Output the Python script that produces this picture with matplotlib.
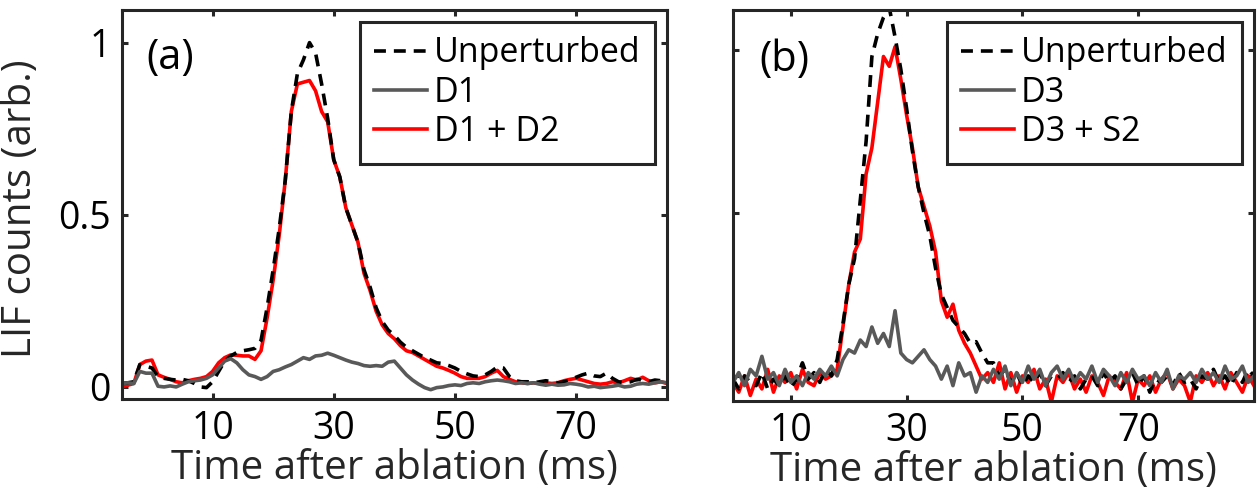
import numpy as np
import matplotlib
matplotlib.use("Agg")
import matplotlib.pyplot as plt

plt.rcParams["font.family"] = ["Open Sans", "DejaVu Sans"]

# ---- panel (a): time axis and LIF traces -------------------------------
time_a = np.arange(-5, 86)  # ms

unperturbed_a = [
    0.010, 0.012, 0.015, 0.065, 0.060, 0.055, 0.030, 0.025, 0.022, 0.020,
    0.022, 0.018, 0.010, 0.000, -0.002, 0.015, 0.045, 0.075, 0.090, 0.100,
    0.105, 0.108, 0.112, 0.135, 0.230, 0.340, 0.460, 0.600, 0.800, 0.910,
    0.950, 1.000, 0.970, 0.880, 0.780, 0.660, 0.610, 0.520, 0.470, 0.420,
    0.340, 0.290, 0.230, 0.190, 0.165, 0.150, 0.130, 0.115, 0.105, 0.095,
    0.085, 0.078, 0.070, 0.068, 0.062, 0.055, 0.045, 0.038, 0.032, 0.030,
    0.035, 0.045, 0.058, 0.055, 0.030, 0.018, 0.015, 0.015, 0.012, 0.015,
    0.018, 0.015, 0.012, 0.015, 0.020, 0.028, 0.035, 0.040, 0.032, 0.030,
    0.040, 0.025, 0.015, 0.012, 0.015, 0.022, 0.020, 0.015, 0.020, 0.018,
    0.015,
]

d1 = [
    0.010, 0.012, 0.010, 0.045, 0.040, 0.040, 0.002, 0.000, 0.003, 0.000,
    0.008, 0.015, 0.018, 0.020, 0.025, 0.035, 0.055, 0.075, 0.082, 0.070,
    0.050, 0.035, 0.030, 0.022, 0.030, 0.045, 0.050, 0.058, 0.065, 0.075,
    0.085, 0.080, 0.090, 0.092, 0.098, 0.092, 0.085, 0.078, 0.072, 0.068,
    0.062, 0.060, 0.062, 0.060, 0.072, 0.075, 0.055, 0.035, 0.020, 0.008,
    -0.002, -0.008, -0.002, 0.000, 0.004, 0.006, 0.004, 0.010, 0.012, 0.010,
    0.015, 0.018, 0.020, 0.018, 0.015, 0.010, 0.012, 0.010, 0.012, 0.008,
    0.005, 0.008, 0.005, 0.006, 0.010, 0.008, 0.005, 0.000, 0.002, -0.002,
    0.000, 0.002, 0.005, 0.000, 0.002, 0.008, 0.010, 0.008, 0.012, 0.015,
    0.012,
]

d1_d2 = [
    0.000, 0.005, 0.010, 0.065, 0.075, 0.078, 0.035, 0.028, 0.022, 0.015,
    0.012, 0.018, 0.022, 0.025, 0.030, 0.045, 0.070, 0.085, 0.093, 0.092,
    0.090, 0.090, 0.080, 0.105, 0.200, 0.310, 0.440, 0.600, 0.800, 0.880,
    0.885, 0.890, 0.860, 0.800, 0.770, 0.660, 0.610, 0.520, 0.470, 0.420,
    0.330, 0.280, 0.220, 0.180, 0.155, 0.140, 0.120, 0.105, 0.100, 0.090,
    0.080, 0.070, 0.060, 0.055, 0.048, 0.040, 0.030, 0.025, 0.025, 0.025,
    0.030, 0.040, 0.048, 0.030, 0.022, 0.015, 0.012, 0.010, 0.012, 0.010,
    0.012, 0.010, 0.012, 0.018, 0.022, 0.025, 0.020, 0.015, 0.010, 0.008,
    0.010, 0.015, 0.012, 0.018, 0.025, 0.020, 0.028, 0.018, 0.012, 0.015,
    0.010,
]

# ---- panel (b): time axis and LIF traces -------------------------------
time_b = np.arange(0, 91)  # ms

unperturbed_b = [
    -0.01, -0.04, 0.00, -0.02, -0.03, 0.01, -0.04, -0.01, -0.03, 0.00,
    -0.035, -0.01, 0.04, -0.01, 0.01, -0.02, 0.02, 0.00, 0.05, 0.16,
    0.28, 0.36, 0.54, 0.72, 0.98, 1.05, 1.10, 1.13, 1.04, 0.94,
    0.82, 0.69, 0.58, 0.50, 0.43, 0.33, 0.25, 0.21, 0.17, 0.15,
    0.13, 0.10, 0.105, 0.07, 0.04, 0.04, 0.00, 0.02, -0.02, 0.01,
    -0.03, 0.00, -0.02, 0.01, -0.03, 0.00, -0.01, 0.01, -0.02, 0.00,
    -0.04, -0.01, 0.00, -0.03, 0.01, -0.02, 0.00, -0.04, -0.01, 0.01,
    -0.03, 0.00, -0.05, -0.01, -0.02, 0.00, -0.03, 0.01, -0.02, -0.01,
    -0.04, 0.00, -0.01, 0.02, -0.02, 0.00, -0.03, 0.01, -0.02, 0.02,
    0.00,
]

d3 = [
    -0.02, 0.01, -0.03, 0.02, 0.00, 0.06, -0.01, 0.01, -0.03, 0.02,
    -0.02, 0.00, -0.03, 0.01, -0.01, 0.02, 0.00, 0.03, 0.00, 0.05,
    0.08, 0.07, 0.11, 0.09, 0.15, 0.10, 0.13, 0.09, 0.20, 0.07,
    0.05, 0.04, 0.06, 0.08, 0.05, 0.03, -0.01, 0.03, -0.03, 0.04,
    0.00, 0.01, -0.05, 0.00, -0.02, 0.02, -0.01, 0.03, -0.03, 0.01,
    -0.02, 0.03, -0.01, 0.02, -0.03, 0.01, 0.03, -0.01, 0.02, -0.02,
    0.01, -0.01, 0.03, -0.02, 0.02, 0.00, -0.03, 0.01, -0.02, 0.02,
    -0.01, 0.00, -0.03, 0.01, -0.02, 0.02, -0.04, 0.00, -0.01, 0.01,
    -0.02, 0.02, -0.01, 0.01, -0.02, 0.03, -0.01, 0.00, 0.03, -0.02,
    0.00,
]

d3_s2 = [
    -0.02, -0.05, 0.00, -0.06, -0.01, -0.04, 0.02, -0.05, 0.00, -0.02,
    0.01, -0.04, 0.02, -0.02, -0.03, 0.01, -0.01, 0.00, 0.02, 0.15,
    0.28, 0.38, 0.42, 0.62, 0.70, 0.84, 0.98, 0.95, 1.01, 0.91,
    0.80, 0.70, 0.58, 0.52, 0.46, 0.38, 0.23, 0.18, 0.22, 0.14,
    0.10, 0.07, 0.03, -0.01, 0.01, -0.02, 0.04, -0.04, 0.01, -0.05,
    0.00, -0.02, 0.02, -0.04, -0.01, -0.08, 0.00, -0.02, 0.01, -0.04,
    -0.01, -0.05, 0.00, -0.02, -0.06, 0.00, -0.02, -0.04, 0.01, -0.08,
    -0.01, -0.03, 0.00, -0.05, -0.01, 0.01, -0.04, -0.01, -0.03, -0.08,
    0.00, -0.02, 0.01, -0.03, 0.00, -0.04, 0.01, -0.02, -0.05, 0.00,
    -0.03,
]

x_ticks = [10, 30, 50, 70]
y_ticks = [0, 0.5, 1]
y_tick_labels = ["0", "0.5", "1"]

# ---- styling ----------------------------------------------------------
FS_TICK = 27
FS_LEG = 24.5
FS_LABEL = 29
AX_COLOR = "#262626"
LW = 2.6
DASH = (0, (3.3, 2.2))
GRAY = "#595959"
RED = "#ff0000"

fig = plt.figure(figsize=(12.57, 4.96), dpi=100)
ax_a = fig.add_axes([0.0968, 0.1956, 0.4338, 0.7844])
ax_b = fig.add_axes([0.5831, 0.1916, 0.4145, 0.7884])


def style_axes(ax):
    for sp in ax.spines.values():
        sp.set_linewidth(2.2)
        sp.set_color(AX_COLOR)
    ax.tick_params(direction="in", length=4, width=2.2, color=AX_COLOR,
                   top=True, right=True, labelsize=FS_TICK,
                   labelcolor="black", pad=8)
    ax.set_xticks(x_ticks)
    ax.set_yticks(y_ticks)
    ax.set_xlabel("Time after ablation (ms)", fontsize=FS_LABEL,
                  color=AX_COLOR, labelpad=0)


def draw_panel(ax, t, unpert, single, combo, single_lbl, combo_lbl):
    h_red, = ax.plot(t, combo, color=RED, lw=LW, label=combo_lbl)
    h_blk, = ax.plot(t, unpert, color="black", lw=LW, linestyle=DASH,
                     label="Unperturbed")
    h_gry, = ax.plot(t, single, color=GRAY, lw=LW, label=single_lbl)
    leg = ax.legend(handles=[h_blk, h_gry, h_red], loc="upper right",
                    fontsize=FS_LEG, frameon=True, fancybox=False,
                    handlelength=1.55, handletextpad=0.2,
                    labelspacing=0.16, borderpad=0.42, borderaxespad=0.36)
    leg.get_frame().set_edgecolor(AX_COLOR)
    leg.get_frame().set_linewidth(2.2)
    leg.get_frame().set_alpha(1)


# panel (a)
draw_panel(ax_a, time_a, unperturbed_a, d1, d1_d2, "D1", "D1 + D2")
style_axes(ax_a)
ax_a.set_xlim(-5, 85)
ax_a.set_ylim(-0.035, 1.095)
ax_a.set_yticklabels(y_tick_labels)
ax_a.set_ylabel("LIF counts (arb.)", fontsize=FS_LABEL, color=AX_COLOR)
ax_a.yaxis.set_label_coords(-0.148, 0.488)
ax_a.text(0.046, 0.876, "(a)", transform=ax_a.transAxes, fontsize=30,
          ha="left", va="center", color="black")

# panel (b)
draw_panel(ax_b, time_b, unperturbed_b, d3, d3_s2, "D3", "D3 + S2")
style_axes(ax_b)
ax_b.set_xlim(0, 90)
ax_b.set_ylim(-0.077, 1.123)
ax_b.set_yticklabels([])
ax_b.text(0.050, 0.872, "(b)", transform=ax_b.transAxes, fontsize=30,
          ha="left", va="center", color="black")

fig.savefig("out.png", dpi=100)
